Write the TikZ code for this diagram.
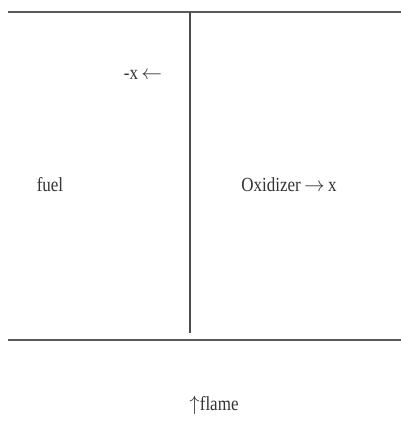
\documentclass[tikz,border=0pt]{standalone}
\usepackage{fontspec}
\setmainfont{Liberation Serif}[FakeStretch=0.85]
\usetikzlibrary{positioning}

\begin{document}
\begin{tikzpicture}[
  x=1pt, y=-1pt,
  font=\fontsize{20}{23}\selectfont,
  text=black!80,
  wall/.style={line width=2pt, draw=black!65},
  split/.style={line width=1.2pt, draw=black!70}
]
\useasboundingbox (0,0) rectangle (401,430);
% walls of the channel
\coordinate (topL) at (8,12);
\coordinate (topR) at (401,12);
\coordinate (botL) at (8,340);
\coordinate (botR) at (401,340);
\coordinate (sepT) at (190,12);
\coordinate (sepB) at (190,333);
\draw[wall] (topL) -- (topR);
\draw[wall] (botL) -- (botR);
\draw[split] (sepT) -- (sepB);
% labels
\node (negx) at (143,75) {-x\,$\leftarrow$};
\node (fuel) at (50,185) {fuel};
\node (oxid) at (289,185) {Oxidizer\,$\rightarrow$\,x};
\node (flame) at (214,405) {$\uparrow$flame};
\end{tikzpicture}
\end{document}
